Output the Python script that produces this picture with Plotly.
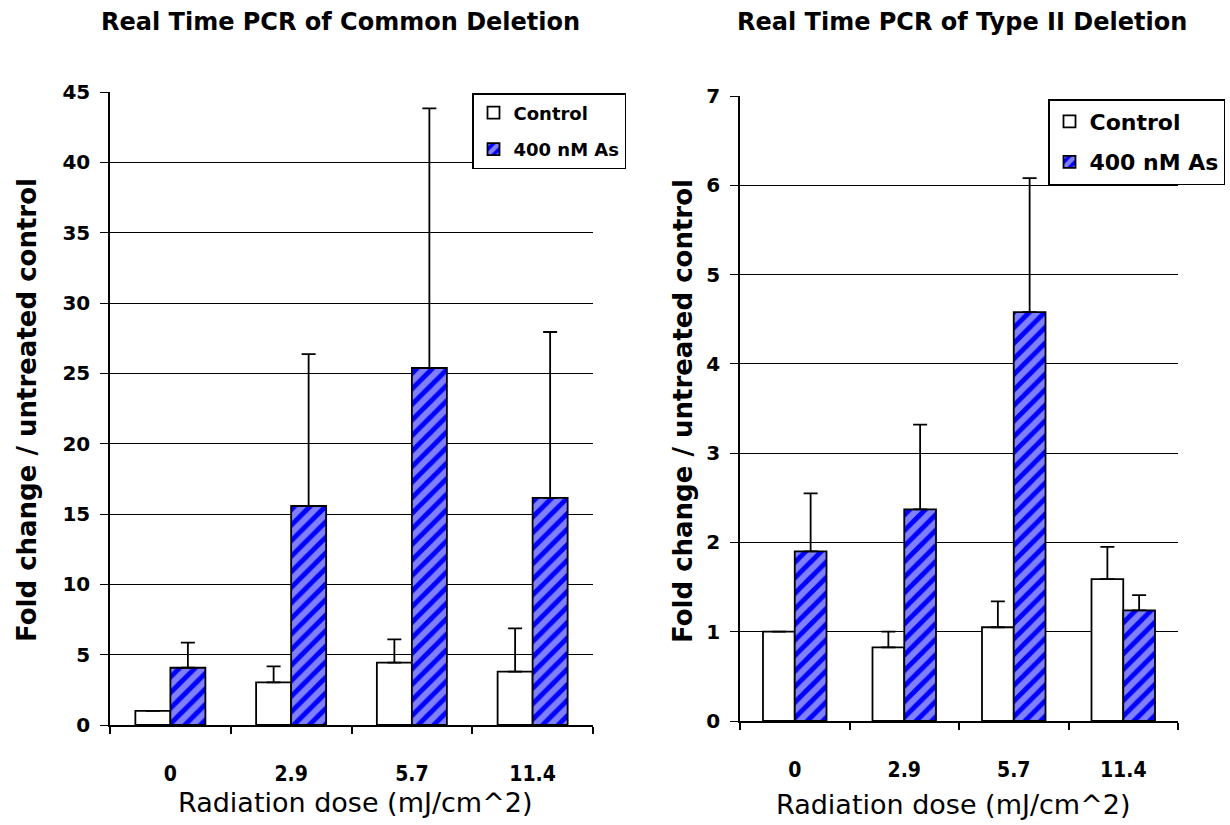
import plotly.graph_objects as go

# Radiation dose categories (mJ/cm^2)
doses = ["0", "2.9", "5.7", "11.4"]

# Common deletion: fold change and upper error
common_control = [1.0, 3.03, 4.43, 3.79]
common_control_err = [0.0, 1.14, 1.66, 3.08]
common_as = [4.07, 15.57, 25.38, 16.14]
common_as_err = [1.78, 10.8, 18.46, 11.8]

# Type II deletion: fold change and upper error
type2_control = [1.0, 0.825, 1.05, 1.59]
type2_control_err = [0.0, 0.175, 0.29, 0.36]
type2_as = [1.90, 2.37, 4.58, 1.24]
type2_as_err = [0.65, 0.95, 1.50, 0.17]

series_names = ["Control", "400 nM As"]

BLUE = "#0000FF"
FONT = "DejaVu Sans, Liberation Sans, Arial, sans-serif"
NARROW = "DejaVu Sans Condensed, Liberation Sans Narrow, DejaVu Sans, sans-serif"


def err(vals):
    return dict(type="data", array=vals, arrayminus=[0] * len(vals),
                symmetric=False, color="black", thickness=1.8, width=7)


def control_bar(y, e, xa, ya, legend):
    return go.Bar(x=doses, y=y, name=series_names[0], xaxis=xa, yaxis=ya,
                  legend=legend, legendgroup=legend + "c",
                  marker=dict(color="white", line=dict(color="black", width=1.8)),
                  error_y=err(e))


def arsenic_bar(y, e, xa, ya, legend):
    return go.Bar(x=doses, y=y, name=series_names[1], xaxis=xa, yaxis=ya,
                  legend=legend, legendgroup=legend + "a",
                  marker=dict(color=BLUE, line=dict(color="black", width=1.8),
                              pattern=dict(shape="/", fgcolor="white", bgcolor=BLUE,
                                           size=11, solidity=0.55)),
                  error_y=err(e))


fig = go.Figure()
fig.add_trace(control_bar(common_control, common_control_err, "x", "y", "legend"))
fig.add_trace(arsenic_bar(common_as, common_as_err, "x", "y", "legend"))
fig.add_trace(control_bar(type2_control, type2_control_err, "x2", "y2", "legend2"))
fig.add_trace(arsenic_bar(type2_as, type2_as_err, "x2", "y2", "legend2"))

W, H = 1230, 825


def px_x(p):
    return p / W


def px_y(p):
    return 1 - p / H


xcommon = dict(type="category", showline=True, linecolor="black", linewidth=1.5,
               ticks="outside", ticklen=7, tickcolor="black", tickwidth=1.5,
               tickson="boundaries", showgrid=False, ticklabelstandoff=29,
               automargin=False,
               tickfont=dict(family=NARROW, size=21, color="black", weight="bold"))
ycommon = dict(showline=True, linecolor="black", linewidth=1.5,
               ticks="outside", ticklen=8, tickcolor="black", tickwidth=1,
               showgrid=True, gridcolor="black", gridwidth=1, zeroline=False,
               ticklabelstandoff=6, automargin=False,
               tickfont=dict(family=FONT, size=20, color="black", weight="bold"))

fig.update_layout(
    width=W, height=H, autosize=False,
    margin=dict(l=0, r=0, t=0, b=0, pad=0, autoexpand=False),
    paper_bgcolor="white", plot_bgcolor="white",
    barmode="group", bargap=0.42, bargroupgap=0,
    xaxis=dict(domain=[px_x(110), px_x(593)], anchor="y", **xcommon),
    yaxis=dict(domain=[px_y(725), px_y(92)], anchor="x", range=[0, 45], dtick=5, **ycommon),
    xaxis2=dict(domain=[px_x(740), px_x(1178)], anchor="y2", **xcommon),
    yaxis2=dict(domain=[px_y(721), px_y(96)], anchor="x2", range=[0, 7], dtick=1, **ycommon),
    legend=dict(x=px_x(472), y=px_y(93), xanchor="left", yanchor="top",
                bgcolor="white", bordercolor="black", borderwidth=1.5,
                traceorder="grouped", tracegroupgap=10,
                font=dict(family=FONT, size=18, color="black", weight="bold")),
    legend2=dict(x=px_x(1048), y=px_y(99), xanchor="left", yanchor="top",
                 bgcolor="white", bordercolor="black", borderwidth=1.5,
                 traceorder="grouped", tracegroupgap=9,
                 font=dict(family=FONT, size=22, color="black", weight="bold")),
)

title_font = dict(family=FONT, size=24, color="black", weight="bold")
ytitle_font = dict(family=FONT, size=26, color="black", weight="bold")
xtitle_font = dict(family=FONT, size=27, color="black")

annotations = [
    dict(text="Real Time PCR of Common Deletion", x=px_x(340), y=px_y(22),
         font=title_font),
    dict(text="Real Time PCR of Type II Deletion", x=px_x(962), y=px_y(22),
         font=title_font),
    dict(text="Fold change / untreated control", x=px_x(27), y=px_y(410),
         textangle=-90, font=ytitle_font),
    dict(text="Fold change / untreated control", x=px_x(683), y=px_y(411),
         textangle=-90, font=ytitle_font),
    dict(text="Radiation dose (mJ/cm^2)", x=px_x(355), y=px_y(802),
         font=xtitle_font),
    dict(text="Radiation dose (mJ/cm^2)", x=px_x(953), y=px_y(804),
         font=xtitle_font),
]
for a in annotations:
    a.update(xref="paper", yref="paper", xanchor="center", yanchor="middle",
             showarrow=False)
fig.update_layout(annotations=annotations)

fig.write_html("out.html")
